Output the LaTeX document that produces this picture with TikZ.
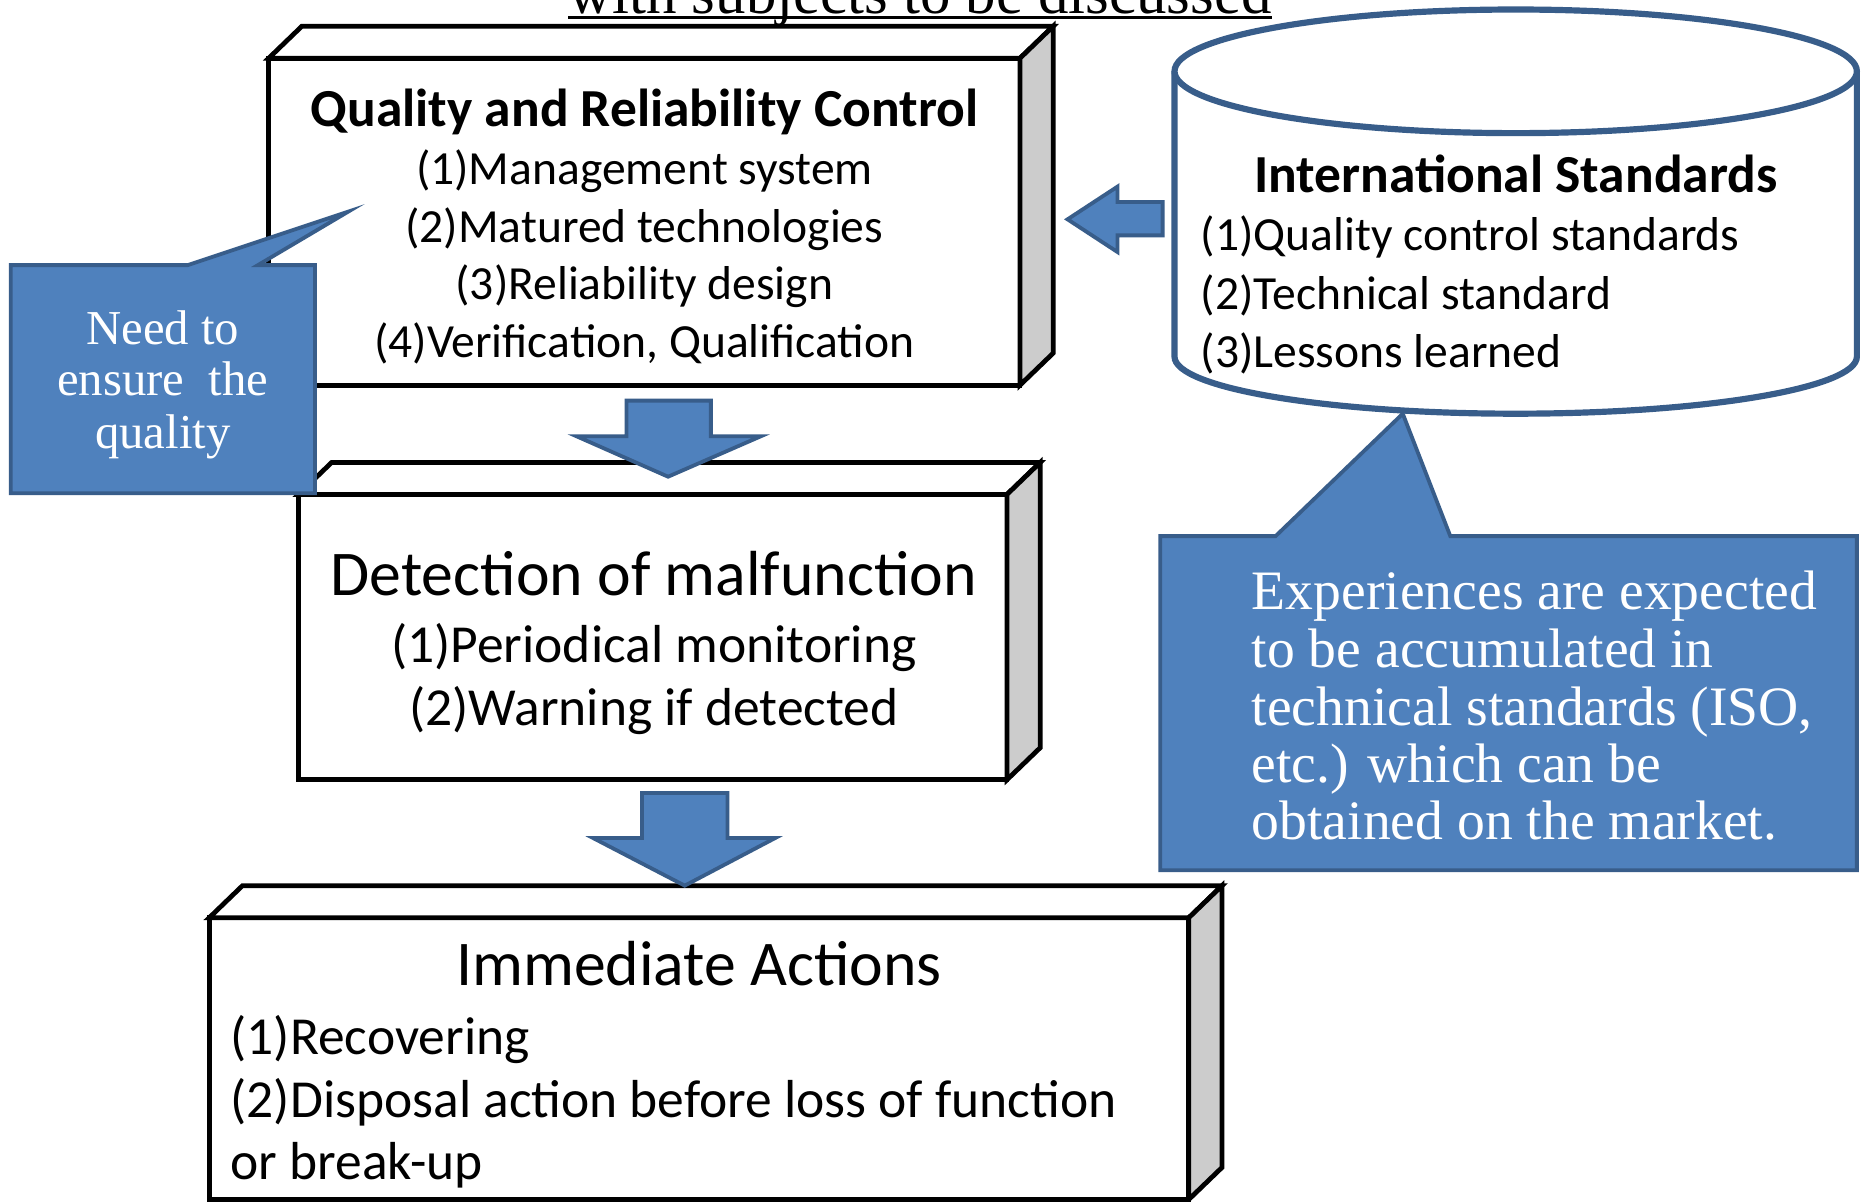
\documentclass[tikz,border=0pt]{standalone}
\usepackage{fontspec}
\setmainfont{Liberation Serif}
\newfontfamily\calfont{Carlito}
\definecolor{calloutfill}{HTML}{4F81BD}
\definecolor{calloutline}{HTML}{385D8A}
\newcommand\fs[1]{\fontsize{#1pt}{#1pt}\selectfont}
\tikzset{
  frontface/.style={rectangle, draw=black, line width=2pt, fill=white, inner sep=0pt, outer sep=0pt},
  topface/.style={draw=black, line width=2pt, fill=white, line join=miter},
  sideface/.style={draw=black, line width=2pt, fill=black!20, line join=miter},
  cylline/.style={draw=calloutline, line width=2.6pt, fill=white},
  callout/.style={draw=calloutline, line width=1.6pt, fill=calloutfill, line join=miter},
  blockarrow/.style={draw=calloutline, line width=1.6pt, fill=calloutfill, line join=miter},
  txt/.style={inner sep=0pt, outer sep=0pt},
  boldhead/.style={txt, font=\calfont\bfseries\fs{22.5}},
  item/.style={txt, font=\calfont\fs{20}},
  bighead/.style={txt, font=\calfont\fs{26.8}},
  bigitem/.style={txt, font=\calfont\fs{22.5}},
  notetxt/.style={txt, text=white, font=\fs{23.4}},
  smallnote/.style={txt, text=white, font=\fs{20.5}},
}
% faces that give a box its depth
\newcommand\boxdepth[1]{%
  \draw[topface] (#1.north west) -- ++(14pt,13.5pt)
    -- ([shift={(14pt,13.5pt)}]#1.north east) -- (#1.north east) -- cycle;
  \draw[sideface] (#1.north east) -- ++(14pt,13.5pt)
    -- ([shift={(14pt,13.5pt)}]#1.south east) -- (#1.south east) -- cycle;}
\begin{document}
\begin{tikzpicture}[x=0.5pt, y=-0.5pt]
\useasboundingbox (0,0) rectangle (1568,1011);
\fill[white] (0,0) rectangle (1568,1011);
\clip (0,0) rectangle (1568,1011);

% heading line running off the top
\node[txt, anchor=base, font=\fs{25.6}] (topic) at (774,11) {with subjects to be discussed};
\draw[line width=1pt] ([yshift=-1.8pt]topic.base west) -- ([yshift=-1.8pt]topic.base east);

% three stacked boxes
\node[frontface, minimum width=316pt, minimum height=137.5pt] (qrc) at (542,186.5) {};
\boxdepth{qrc}
\node[frontface, minimum width=298pt, minimum height=120pt] (det) at (549,536) {};
\boxdepth{det}
\node[frontface, minimum width=412pt, minimum height=118.5pt] (imm) at (588,890.5) {};
\boxdepth{imm}

% quality and reliability control
\node[boldhead, anchor=base] (q0) at (542,106) {Quality and Reliability Control};
\node[item, anchor=base] (q1) at (542,155) {(1)Management system};
\node[item, anchor=base] (q2) at (542,204) {(2)Matured technologies};
\node[item, anchor=base] (q3) at (542,252) {(3)Reliability design};
\node[item, anchor=base] (q4) at (542,301) {(4)Verification, Qualification};

% detection
\node[bighead, anchor=base] (d0) at (550,501) {Detection of malfunction};
\node[bigitem, anchor=base] (d1) at (550,557) {(1)Periodical monitoring};
\node[bigitem, anchor=base] (d2) at (550,610) {(2)Warning if detected};

% immediate actions
\node[bighead, anchor=base] (i0) at (588,829) {Immediate Actions};
\node[bigitem, anchor=base west] (i1) at (194,887) {(1)Recovering};
\node[bigitem, anchor=base west] (i2) at (194,940) {(2)Disposal action before loss of function};
\node[bigitem, anchor=base west] (i3) at (194,992) {or break-up};

% standards store
\draw[cylline] (988,60) -- (988,300)
  arc[start angle=180, end angle=360, x radius=143.5pt, y radius=24pt] -- (1562,60);
\draw[cylline] (1275,60) ellipse [x radius=143.5pt, y radius=26pt];
\coordinate (cylbottom) at (1180,348);
\node[boldhead, anchor=base] (s0) at (1275,162) {International Standards};
\node[item, anchor=base west] (s1) at (1010,211) {(1)Quality control standards};
\node[item, anchor=base west] (s2) at (1010,260) {(2)Technical standard};
\node[item, anchor=base west] (s3) at (1010,309) {(3)Lessons learned};

% block arrows
\draw[blockarrow] (978,170) -- (940,170) -- (940,157) -- (898,184.5)
  -- (940,212) -- (940,198) -- (978,198) -- cycle;
\draw[blockarrow] (527,337) -- (598,337) -- (598,367) -- (640,367) -- (562,401)
  -- (485,367) -- (527,367) -- cycle;
\draw[blockarrow] (540,667) -- (612,667) -- (612,705) -- (652,705) -- (576,745)
  -- (499,705) -- (540,705) -- cycle;

% callouts
\draw[callout] (9,223) -- (158,223) -- (293,178) -- (217,223) -- (265,223)
  -- (265,415) -- (9,415) -- cycle;
\node[smallnote, anchor=base] (n1) at (137,290) {Need to};
\node[smallnote, anchor=base] (n2) at (137,333) {ensure\ \ the};
\node[smallnote, anchor=base] (n3) at (137,377) {quality};

\draw[callout] (976,451) -- (1073,451) -- (cylbottom) -- (1220,451) -- (1562,451)
  -- (1562,732) -- (976,732) -- cycle;
\node[notetxt, anchor=base west] (e1) at (1053,513) {Experiences are expected};
\node[notetxt, anchor=base west] (e2) at (1053,561.5) {to be accumulated in};
\node[notetxt, anchor=base west] (e3) at (1053,610) {technical standards (ISO,};
\node[notetxt, anchor=base west] (e4) at (1053,658) {etc.) which can be};
\node[notetxt, anchor=base west] (e5) at (1053,706) {obtained on the market.};
\end{tikzpicture}
\end{document}
